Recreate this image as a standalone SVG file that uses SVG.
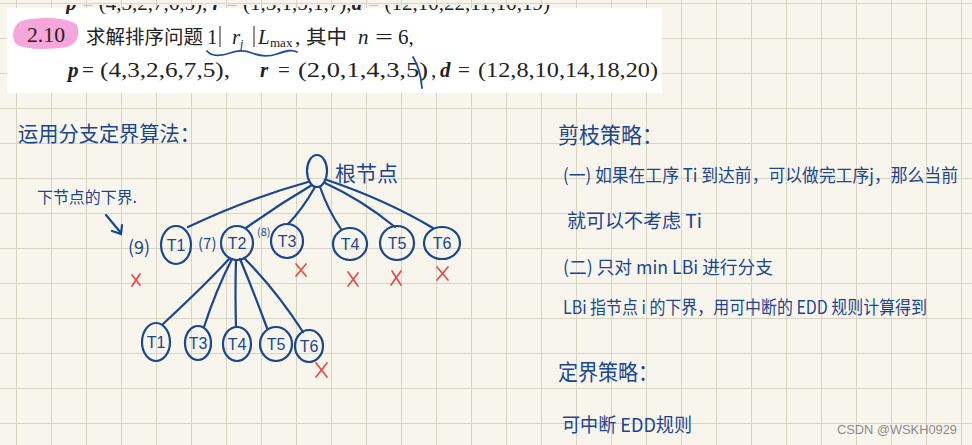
<svg xmlns="http://www.w3.org/2000/svg" width="972" height="445" viewBox="0 0 972 445">
<defs>
<pattern id="grid" x="16" y="3" width="35" height="35" patternUnits="userSpaceOnUse">
<path d="M0,0.5H35M0.5,0V35" fill="none" stroke="#d9d5c5" stroke-width="1"/>
</pattern>
<clipPath id="topclip"><rect x="7" y="5" width="655" height="9"/></clipPath>
<style>
.pr{font-family:"Liberation Serif","Noto Sans CJK SC",serif;fill:#222;font-size:21px}
.prc{font-family:"Noto Sans CJK SC","Liberation Serif",serif;fill:#222;font-size:19.5px}
.it{font-style:italic}
.bi{font-style:italic;font-weight:bold}
.hw{font-family:"Noto Sans CJK SC","Liberation Sans",sans-serif;fill:#1a4590}
.node{fill:none;stroke:#1a4590;stroke-width:2.2}
.lbl{font-family:"Liberation Sans","Noto Sans CJK SC",sans-serif;fill:#1a4590;font-size:16px;text-anchor:middle}
.edge{fill:none;stroke:#1a4590;stroke-width:2.2;stroke-linecap:round}
.x{stroke:#f04848;stroke-width:1.7;stroke-linecap:round}
.pen{fill:none;stroke:#1d4d9a;stroke-width:1.8;stroke-linecap:round}
</style>
</defs>
<rect x="0" y="0" width="972" height="445" fill="#f8f6ec"/>
<rect x="0" y="0" width="972" height="445" fill="url(#grid)"/>

<g id="problem">
<rect x="7" y="8" width="655" height="85" fill="#ffffff"/>
<g clip-path="url(#topclip)">
<text class="pr" x="66" y="10"><tspan class="bi">p</tspan> = (4,3,2,7,6,5),   <tspan class="bi">r</tspan> = (1,3,1,5,1,7),<tspan class="bi">d</tspan> = (12,10,22,11,10,19)</text>
</g>
<path d="M21,21 C38,16 70,17 77,25 C80,33 78,44 67,47 C48,50 25,50 16,44 C11,38 12,26 21,21 Z" fill="#f7a6dc"/>
<text class="pr" x="27" y="42" textLength="38" lengthAdjust="spacingAndGlyphs">2.10</text>
<text class="prc" x="86" y="44" textLength="117" lengthAdjust="spacingAndGlyphs">求解排序问题</text>
<line x1="220" y1="26" x2="220" y2="47" stroke="#222" stroke-width="1"/>
<line x1="254" y1="26" x2="254" y2="47" stroke="#222" stroke-width="1"/>
<text class="pr" x="207" y="44">1<tspan class="it" x="232">r</tspan><tspan class="it" x="240" dy="4" font-size="12">j</tspan><tspan class="it" x="258" dy="-4">L</tspan><tspan x="270" dy="3" font-size="13">max</tspan><tspan x="295" dy="-3">,</tspan></text>
<text class="prc" x="306" y="44" textLength="41" lengthAdjust="spacingAndGlyphs">其中</text>
<text class="pr it" x="358" y="44">n</text>
<text class="pr" x="375" y="44" textLength="18" lengthAdjust="spacingAndGlyphs">=</text>
<text class="pr" x="398" y="44">6,</text>
<text class="pr bi" x="68" y="77">p</text>
<text class="pr" x="82" y="77">=</text>
<text class="pr" x="100" y="77" textLength="130" lengthAdjust="spacingAndGlyphs">(4,3,2,6,7,5),</text>
<text class="pr bi" x="260" y="77">r</text>
<text class="pr" x="278" y="77">=</text>
<text class="pr" x="298" y="77" textLength="130" lengthAdjust="spacingAndGlyphs">(2,0,1,4,3,5)</text>
<text class="pr" x="431" y="77">,</text>
<text class="pr bi" x="440" y="77">d</text>
<text class="pr" x="458" y="77">=</text>
<text class="pr" x="478" y="77" textLength="180" lengthAdjust="spacingAndGlyphs">(12,8,10,14,18,20)</text>
<path class="pen" d="M207,51 C212,57 222,56 230,53 S245,50 252,53 S268,57 277,54 S292,49 297,52"/>
<path class="pen" d="M413,57 C418,65 421,75 422,88"/>
</g>

<g id="title-left">
<text class="hw" x="18" y="141" font-size="21" textLength="182" lengthAdjust="spacingAndGlyphs">运用分支定界算法：</text>
</g>
<g id="lower-bound-note">
<text class="hw" x="37" y="203" font-size="16" textLength="100" lengthAdjust="spacingAndGlyphs">下节点的下界.</text>
<path class="edge" d="M106,215 L121,233 M112,231 L121,234 L122,225" stroke-width="1.8"/>
</g>

<g id="connectors">
<path class="edge" d="M308,182 Q250,198 188,227"/>
<path class="edge" d="M312,185 Q278,205 246,228"/>
<path class="edge" d="M315,187 Q302,210 288,224"/>
<path class="edge" d="M320,187 Q328,210 341,229"/>
<path class="edge" d="M325,183 Q362,200 395,227"/>
<path class="edge" d="M327,180 Q386,200 433,228"/>
<path class="edge" d="M229,259 Q205,285 163,324"/>
<path class="edge" d="M232,259 Q216,290 204,327"/>
<path class="edge" d="M236,260 Q235,290 236,327"/>
<path class="edge" d="M240,259 Q253,290 267,328"/>
<path class="edge" d="M244,258 Q276,290 303,332"/>
</g>

<g id="root">
<ellipse class="node" cx="317" cy="171" rx="10" ry="16"/>
<text class="hw" x="335" y="181" font-size="21" textLength="63" lengthAdjust="spacingAndGlyphs">根节点</text>
</g>

<g id="n1-T1">
<ellipse class="node" cx="176" cy="245" rx="15" ry="19"/>
<text class="lbl" x="176" y="251">T1</text>
<text class="hw" x="128" y="254" font-size="18">(9)</text>
<path class="x" d="M132,275 L140,285 M140,274 L132,286"/>
</g>
<g id="n1-T2">
<ellipse class="node" cx="237" cy="243" rx="16" ry="17"/>
<text class="lbl" x="237" y="249">T2</text>
<text class="hw" x="198" y="249" font-size="15">(7)</text>
</g>
<g id="n1-T3">
<ellipse class="node" cx="287" cy="241" rx="16" ry="17"/>
<text class="lbl" x="287" y="247">T3</text>
<text class="hw" x="257" y="236" font-size="11">(8)</text>
<path class="x" d="M296,264 L306,276 M306,264 L296,276"/>
</g>
<g id="n1-T4">
<ellipse class="node" cx="350" cy="244" rx="17" ry="16"/>
<text class="lbl" x="350" y="250">T4</text>
<path class="x" d="M348,272 L358,286 M358,273 L348,286"/>
</g>
<g id="n1-T5">
<ellipse class="node" cx="397" cy="243" rx="17" ry="17"/>
<text class="lbl" x="397" y="249">T5</text>
<path class="x" d="M392,271 L401,285 M401,271 L391,285"/>
</g>
<g id="n1-T6">
<ellipse class="node" cx="442" cy="243" rx="18" ry="16"/>
<text class="lbl" x="442" y="249">T6</text>
<path class="x" d="M437,267 L448,280 M448,267 L437,280"/>
</g>

<g id="n2-T1">
<ellipse class="node" cx="156" cy="342" rx="14" ry="19"/>
<text class="lbl" x="156" y="348">T1</text>
</g>
<g id="n2-T3">
<ellipse class="node" cx="198" cy="343" rx="13" ry="17"/>
<text class="lbl" x="198" y="349">T3</text>
</g>
<g id="n2-T4">
<ellipse class="node" cx="237" cy="344" rx="14" ry="17"/>
<text class="lbl" x="237" y="350">T4</text>
</g>
<g id="n2-T5">
<ellipse class="node" cx="276" cy="344" rx="16" ry="17"/>
<text class="lbl" x="276" y="350">T5</text>
</g>
<g id="n2-T6">
<ellipse class="node" cx="309" cy="346" rx="14" ry="16"/>
<text class="lbl" x="309" y="352">T6</text>
<path class="x" d="M316,363 L327,377 M327,363 L316,377"/>
</g>

<g id="notes-right">
<text class="hw" x="558" y="143" font-size="22" textLength="105" lengthAdjust="spacingAndGlyphs">剪枝策略：</text>
<text class="hw" x="563" y="182" font-size="18" textLength="395" lengthAdjust="spacingAndGlyphs">(一) 如果在工序 Ti 到达前，可以做完工序j，那么当前</text>
<text class="hw" x="567" y="228" font-size="19" textLength="135" lengthAdjust="spacingAndGlyphs">就可以不考虑 Ti</text>
<text class="hw" x="563" y="274" font-size="18" textLength="210" lengthAdjust="spacingAndGlyphs">(二) 只对  min LBi 进行分支</text>
<text class="hw" x="563" y="314" font-size="18" textLength="364" lengthAdjust="spacingAndGlyphs">LBi 指节点 i 的下界，用可中断的 EDD 规则计算得到</text>
<text class="hw" x="558" y="380" font-size="22" textLength="100" lengthAdjust="spacingAndGlyphs">定界策略：</text>
<text class="hw" x="562" y="432" font-size="19" textLength="130" lengthAdjust="spacingAndGlyphs">可中断 EDD规则</text>
</g>

<g id="watermark">
<text x="957" y="434" text-anchor="end" font-family="Liberation Sans, sans-serif" font-size="13" fill="#8a8a8a" textLength="120" lengthAdjust="spacingAndGlyphs">CSDN @WSKH0929</text>
</g>
</svg>
